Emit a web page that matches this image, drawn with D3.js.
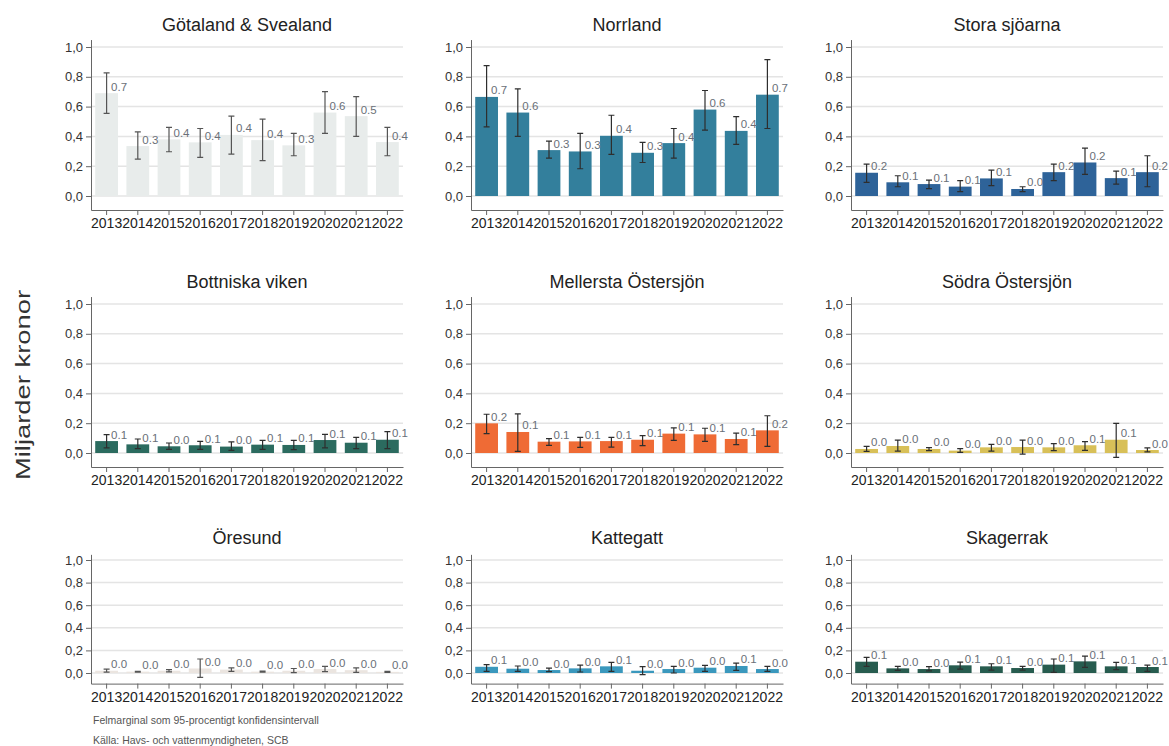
<!DOCTYPE html>
<html>
<head>
<meta charset="utf-8">
<script src="https://cdn.jsdelivr.net/npm/d3@7"></script>
<style>
  body { margin: 0; background: #fff; }
  svg { font-family: "Liberation Sans", Arial, sans-serif; }
  .grid line { stroke: #e4e4e4; stroke-width: 1.5; }
  .yaxis path, .yaxis line, .xaxis path, .xaxis line { stroke: #666; }
  .yaxis text { font-size: 13px; fill: #333; }
  .xaxis text { font-size: 14px; fill: #222; }
</style>
</head>
<body>
<script>
// data
const years = ['2013', '2014', '2015', '2016', '2017', '2018', '2019', '2020', '2021', '2022'];
const regions = ['Götaland & Svealand', 'Norrland', 'Stora sjöarna',
                 'Bottniska viken', 'Mellersta Östersjön', 'Södra Östersjön',
                 'Öresund', 'Kattegatt', 'Skagerrak'];
const colors = ['#e8eceb', '#337f9c', '#2e6399',
                '#2b6b5f', '#ef6b35', '#d8c058',
                '#ebe5e0', '#3a98bd', '#275c4f'];

// Miljarder kronor per region and year
const values = [
    [0.69, 0.335, 0.38, 0.36, 0.41, 0.375, 0.34, 0.56, 0.536, 0.362],
    [0.665, 0.56, 0.308, 0.299, 0.404, 0.29, 0.355, 0.58, 0.437, 0.68],
    [0.156, 0.092, 0.08, 0.063, 0.118, 0.047, 0.16, 0.225, 0.12, 0.16],
    [0.08, 0.058, 0.045, 0.052, 0.043, 0.056, 0.054, 0.087, 0.069, 0.089],
    [0.199, 0.141, 0.076, 0.078, 0.08, 0.089, 0.13, 0.125, 0.094, 0.152],
    [0.027, 0.047, 0.027, 0.016, 0.038, 0.04, 0.038, 0.052, 0.089, 0.02],
    [0.02, 0.012, 0.02, 0.04, 0.03, 0.012, 0.02, 0.035, 0.025, 0.01],
    [0.055, 0.038, 0.026, 0.041, 0.059, 0.02, 0.035, 0.047, 0.062, 0.035],
    [0.1, 0.041, 0.035, 0.068, 0.059, 0.044, 0.074, 0.103, 0.059, 0.053]
];
// 95% konfidensintervall
const lower = [
    [0.554, 0.248, 0.297, 0.259, 0.281, 0.237, 0.27, 0.42, 0.40, 0.27],
    [0.464, 0.40, 0.254, 0.183, 0.279, 0.225, 0.254, 0.442, 0.346, 0.453],
    [0.092, 0.062, 0.05, 0.029, 0.069, 0.029, 0.103, 0.145, 0.08, 0.062],
    [0.034, 0.029, 0.025, 0.025, 0.018, 0.025, 0.022, 0.034, 0.029, 0.029],
    [0.13, 0.011, 0.051, 0.038, 0.04, 0.049, 0.085, 0.078, 0.056, 0.045],
    [0.011, 0.013, 0.016, 0.004, 0.013, -0.007, 0.016, 0.018, -0.029, 0.007],
    [0.008, 0.008, 0.01, -0.038, 0.015, 0.008, 0.003, 0.012, 0.005, 0.006],
    [0.015, 0.015, 0.012, 0.009, 0.015, -0.015, 0.0, 0.015, 0.024, 0.015],
    [0.059, 0.024, 0.018, 0.035, 0.026, 0.026, 0.006, 0.05, 0.029, 0.015]
];
const upper = [
    [0.826, 0.43, 0.46, 0.453, 0.536, 0.516, 0.42, 0.70, 0.667, 0.46],
    [0.875, 0.719, 0.368, 0.42, 0.542, 0.36, 0.453, 0.708, 0.533, 0.915],
    [0.214, 0.136, 0.107, 0.103, 0.174, 0.062, 0.214, 0.321, 0.167, 0.27],
    [0.123, 0.094, 0.067, 0.078, 0.074, 0.085, 0.085, 0.125, 0.105, 0.143],
    [0.26, 0.262, 0.096, 0.105, 0.105, 0.116, 0.168, 0.166, 0.134, 0.25],
    [0.045, 0.087, 0.036, 0.029, 0.058, 0.087, 0.063, 0.076, 0.199, 0.034],
    [0.035, 0.015, 0.03, 0.124, 0.045, 0.016, 0.04, 0.058, 0.045, 0.014],
    [0.074, 0.062, 0.044, 0.07, 0.094, 0.056, 0.059, 0.068, 0.088, 0.059],
    [0.138, 0.059, 0.056, 0.097, 0.082, 0.059, 0.124, 0.15, 0.094, 0.07]
];
const yTicks = [0, 0.2, 0.4, 0.6, 0.8, 1.0];

// layout
const W = 1169, H = 746;
const colLeft = [91, 471, 851];
const plotWidth = 312;
const rowZero = [196, 453, 673];   // pixel of 0,0
const rowOne = [47, 304, 560];     // pixel of 1,0

const svg = d3.select('body').append('svg')
    .attr('width', W)
    .attr('height', H);

const x = d3.scaleBand()
    .domain(years)
    .range([0, plotWidth])
    .paddingInner(0.27)
    .paddingOuter(0.135);

const fmtLabel = d3.format('.1f');
const fmtAxis = d => d3.format('.1f')(d).replace('.', ',');

regions.forEach((name, i) => {
    const row = Math.floor(i / 3), col = i % 3;
    const perUnit = rowZero[row] - rowOne[row];
    const y = d3.scaleLinear()
        .domain([-0.094, 1.05])
        .range([rowZero[row] + 0.094 * perUnit, rowOne[row] - 0.05 * perUnit]);
    const bottom = y.range()[0];

    const g = svg.append('g')
        .attr('transform', `translate(${colLeft[col]},0)`);

    // gridlines
    g.append('g')
        .attr('class', 'grid')
        .selectAll('line')
        .data(yTicks)
        .enter().append('line')
        .attr('x1', 0)
        .attr('x2', plotWidth)
        .attr('y1', d => y(d))
        .attr('y2', d => y(d));

    const data = years.map((yr, j) => ({
        year: yr, value: values[i][j], lo: lower[i][j], hi: upper[i][j]
    }));

    // bars
    g.selectAll('.bar')
        .data(data)
        .enter().append('rect')
        .attr('class', 'bar')
        .attr('x', d => x(d.year))
        .attr('y', d => y(d.value))
        .attr('width', x.bandwidth())
        .attr('height', d => y(0) - y(d.value))
        .attr('fill', colors[i]);

    // error bars
    const eb = g.append('g')
        .attr('stroke', i === 0 || i === 6 ? '#555' : '#2e2e2e')
        .attr('stroke-width', 1.2)
        .attr('fill', 'none');
    const cx = d => x(d.year) + x.bandwidth() / 2;
    eb.selectAll('.err')
        .data(data)
        .enter().append('path')
        .attr('d', d => `M${cx(d)},${y(d.hi)}V${y(d.lo)}` +
            `M${cx(d) - 3},${y(d.hi)}h6M${cx(d) - 3},${y(d.lo)}h6`);

    // value labels
    g.append('g')
        .selectAll('text')
        .data(data)
        .enter().append('text')
        .attr('x', d => cx(d) + 4.5)
        .attr('y', d => y(d.value) - 2.5)
        .attr('font-size', '11.5px')
        .attr('fill', '#6a7078')
        .text(d => fmtLabel(d.value));

    // axes
    g.append('g')
        .attr('class', 'yaxis')
        .call(d3.axisLeft(y).tickValues(yTicks).tickSize(5).tickSizeOuter(0)
            .tickPadding(3).tickFormat(fmtAxis));

    g.append('g')
        .attr('class', 'xaxis')
        .attr('transform', `translate(0,${bottom})`)
        .call(d3.axisBottom(x).tickSize(5).tickSizeOuter(0).tickPadding(3));

    // title
    g.append('text')
        .attr('x', plotWidth / 2)
        .attr('y', rowOne[row] - 16)
        .attr('text-anchor', 'middle')
        .attr('font-size', '18px')
        .attr('fill', '#222')
        .text(name);
});

// y title
svg.append('text')
    .attr('transform', 'translate(30,385) rotate(-90)')
    .attr('text-anchor', 'middle')
    .attr('font-size', '20px')
    .attr('fill', '#333')
    .attr('textLength', 190)
    .attr('lengthAdjust', 'spacingAndGlyphs')
    .text('Miljarder kronor');

// footnotes
svg.append('text')
    .attr('x', 93)
    .attr('y', 724)
    .attr('font-size', '10.5px')
    .attr('fill', '#555')
    .text('Felmarginal som 95-procentigt konfidensintervall');

svg.append('text')
    .attr('x', 93)
    .attr('y', 744)
    .attr('font-size', '10.5px')
    .attr('fill', '#555')
    .text('Källa: Havs- och vattenmyndigheten, SCB');
</script>
</body>
</html>
